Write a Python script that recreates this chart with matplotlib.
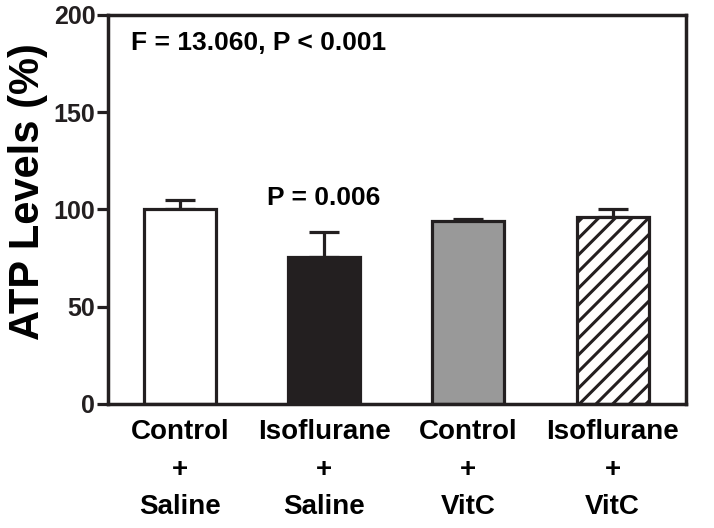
"""ATP levels by treatment group, bar chart with upper SEM bars."""

import matplotlib
matplotlib.use("Agg")
import matplotlib.pyplot as plt

groups = ["Control\n+\nSaline", "Isoflurane\n+\nSaline", "Control\n+\nVitC", "Isoflurane\n+\nVitC"]
atp = [100, 75.5, 94, 96]
sem = [5, 13, 1, 4]
fills = ["white", "#231f20", "#999999", "white"]
hatches = ["", "", "", "//"]


def main():
    plt.rcParams["font.family"] = ["Liberation Sans", "DejaVu Sans"]
    plt.rcParams["hatch.linewidth"] = 2.2

    fig = plt.figure(figsize=(7.14, 5.28), dpi=100)
    ax = fig.add_axes([0.151, 0.235, 0.81, 0.737])

    x = range(len(groups))
    bars = ax.bar(x, atp, width=0.5, color=fills, edgecolor="#231f20",
                  linewidth=2.3, zorder=2)
    for b, h in zip(bars, hatches):
        b.set_hatch(h)
    ax.errorbar(x, atp, yerr=[[0] * len(sem), sem], fmt="none", ecolor="#231f20",
                elinewidth=2.3, capsize=11, capthick=2.3, zorder=1)

    ax.set_xlim(-0.5, 3.51)
    ax.set_ylim(0, 200)
    ax.set_yticks([0, 50, 100, 150, 200])
    ax.set_xticks(list(x))
    ax.set_xticklabels(groups, fontsize=20, fontweight="bold", linespacing=1.57)
    for lab in ax.get_yticklabels():
        lab.set_fontsize(18)
        lab.set_fontweight("bold")
    ax.tick_params(axis="x", length=0, pad=11)
    ax.tick_params(axis="y", length=8, width=2.3, pad=1, colors="#231f20")
    for s in ax.spines.values():
        s.set_linewidth(2.5)
        s.set_color("#231f20")

    ax.set_ylabel("ATP Levels (%)", fontsize=30, fontweight="bold")
    ax.yaxis.set_label_coords(-0.103, 0.545)
    ax.text(0.04, 0.928, "F = 13.060, P < 0.001", transform=ax.transAxes,
            fontsize=19, fontweight="bold", va="center", ha="left")
    ax.text(1, 106, "P = 0.006", fontsize=19, fontweight="bold",
            ha="center", va="center")

    fig.savefig("out.png", dpi=100)


if __name__ == "__main__":
    main()
